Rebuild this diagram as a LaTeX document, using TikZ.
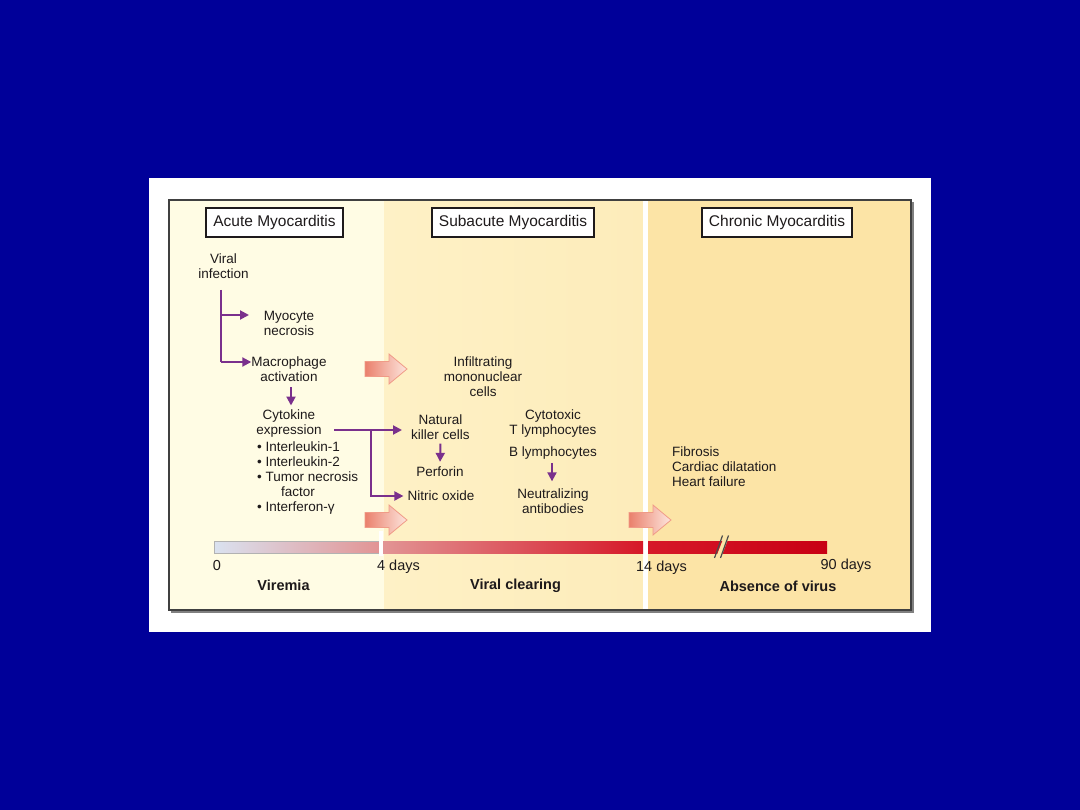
\documentclass[tikz,border=0pt]{standalone}
\usepackage{fontspec}
\setmainfont{Liberation Sans}
\usetikzlibrary{arrows.meta}
\definecolor{slidebg}{RGB}{0,0,153}
\definecolor{acutebg}{RGB}{255,252,228}
\definecolor{subbgA}{RGB}{254,241,198}
\definecolor{subbgB}{RGB}{253,236,186}
\definecolor{chronbg}{RGB}{252,228,166}
\definecolor{ink}{RGB}{30,26,27}
\definecolor{purp}{RGB}{122,48,140}
\definecolor{arrL}{RGB}{234,128,108}
\definecolor{arrR}{RGB}{253,230,222}
\definecolor{arrEdge}{RGB}{240,155,135}
\definecolor{barA}{RGB}{218,226,240}
\definecolor{barB}{RGB}{226,148,148}
\definecolor{barC}{RGB}{214,24,40}
\definecolor{barD}{RGB}{200,0,20}
\tikzset{
  txt/.style={font=\fontsize{13.5}{15}\selectfont, align=center, text=ink, inner sep=0pt},
  hdr/.style={font=\fontsize{15.5}{18}\selectfont, text=ink, draw=ink, line width=1.3pt, fill=white, inner sep=0pt, minimum height=29pt},
  daylab/.style={font=\fontsize{14.5}{17}\selectfont, text=ink, inner sep=0pt},
  phase/.style={font=\fontsize{14.5}{17}\selectfont\bfseries, text=ink, inner sep=0pt},
  link/.style={draw=purp, line width=2pt, -{Triangle[length=9pt,width=9pt]}},
  plain/.style={draw=purp, line width=2pt},
  fatarrow/.pic={\shade[left color=arrL, right color=arrR, draw=arrEdge, line width=0.8pt]
     (0,-7.5) -- (24,-7.5) -- (24,-15) -- (42,0) -- (24,15) -- (24,7.5) -- (0,7.5) -- cycle;}
}
\begin{document}
\begin{tikzpicture}[x=1pt,y=-1pt]
\useasboundingbox (0,0) rectangle (1080,810);
\fill[slidebg] (0,0) rectangle (1080,810);
\fill[white] (149,178) rectangle (931,632);
% frame and panels
\fill[black!50] (171,202) rectangle (913.5,612.5);
\fill[acutebg] (169,200) rectangle (384,610);
\shade[left color=subbgA, right color=subbgB] (384,200) rectangle (643,610);
\fill[white] (643,200) rectangle (648,610);
\fill[chronbg] (648,200) rectangle (911,610);
\draw[black!75, line width=1.2pt] (169,200) rectangle (911,610);

% headers
\node[hdr, minimum width=137pt] (acuteH) at (274.5,222.5) {Acute Myocarditis};
\node[hdr, minimum width=162pt] (subH) at (513,222.5) {Subacute Myocarditis};
\node[hdr, minimum width=150pt] (chronH) at (777,222.5) {Chronic Myocarditis};

% timeline bar
\shade[left color=barA, right color=barB, draw=black!30, line width=0.5pt] (214,541) rectangle (379,553);
\shade[left color=barB, right color=barC] (383,541) rectangle (643,553);
\shade[left color=barC, right color=barD] (648,541) rectangle (827,553);
\fill[white] (379,531) rectangle (383,556);
\fill[chronbg] (717,555) -- (723.5,538) -- (728.5,538) -- (722,555) -- cycle;
\draw[black!70, line width=1.2pt] (714.5,558) -- (722.5,535.5);
\draw[black!70, line width=1.2pt] (720.5,558) -- (728.5,535.5);

% big arrows
\pic at (365,369) {fatarrow};
\pic at (365,520) {fatarrow};
\pic at (629,520) {fatarrow};

% acute column
\node[txt] (vi) at (223.5,266.5) {Viral\\infection};
\node[txt] (myo) at (289,323) {Myocyte\\necrosis};
\node[txt] (mac) at (289,369.5) {Macrophage\\activation};
\node[txt] (cyt) at (289,423.5) {Cytokine\\expression};
\node[txt, align=left, anchor=north west] (cytlist) at (257,442) {• Interleukin-1\\• Interleukin-2\\• Tumor necrosis\\\hspace*{24pt}factor\\• Interferon-γ};

% subacute column
\node[txt] (inf) at (483,376.5) {Infiltrating\\mononuclear\\cells};
\node[txt] (nk) at (440.5,427) {Natural\\killer cells};
\node[txt] (perf) at (440,472) {Perforin};
\node[txt] (nitric) at (441,496) {Nitric oxide};
\node[txt] (ctl) at (553,423.5) {Cytotoxic\\T lymphocytes};
\node[txt] (blym) at (553,453.4) {B lymphocytes};
\node[txt] (neut) at (553,501) {Neutralizing\\antibodies};

% chronic column
\node[txt, align=left, anchor=north west] (chron) at (672,446.5) {Fibrosis\\Cardiac dilatation\\Heart failure};

% day labels
\node[daylab] (z0) at (217,566) {0};
\node[daylab] (d4) at (398.5,567) {4 days};
\node[daylab] (d14) at (661.5,568) {14 days};
\node[daylab] (d90) at (846,566) {90 days};
\node[phase] (viremia) at (283.5,585) {Viremia};
\node[phase] (clear) at (515.5,586) {Viral clearing};
\node[phase] (absence) at (778,586) {Absence of virus};

% purple connectors
\coordinate (vtop) at (221,290);
\coordinate (vmid) at (221,315);
\coordinate (vbot) at (221,362);
\coordinate (myoin) at (249,315);
\draw[plain] (vtop) -- (vbot);
\draw[link] (vmid) -- (myoin);
\draw[link] (vbot) -- (mac.west |- vbot);
\draw[link, shorten <=5pt, shorten >=4pt] ([xshift=2pt]mac.south) -- ([xshift=2pt]mac.south |- cyt.north);
\coordinate (cytout) at (334,430);
\coordinate (split) at (371,430);
\coordinate (nkin) at (402,430);
\draw[link] (cytout) -- (nkin);
\draw[link] (split) |- ([xshift=-4pt]nitric.west);
\draw[link, shorten <=4pt, shorten >=5pt] (nk.south) -- (perf.north);
\draw[link, shorten <=3pt, shorten >=7pt] ([xshift=-1pt]blym.south) -- ([xshift=-1pt]neut.north);
\end{tikzpicture}
\end{document}
